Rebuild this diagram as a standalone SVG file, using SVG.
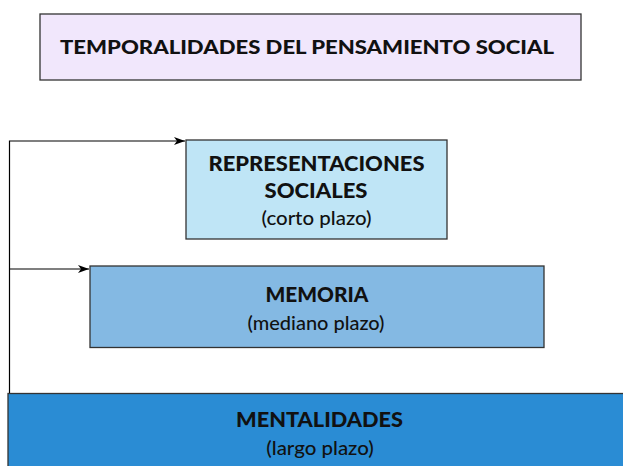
<svg xmlns="http://www.w3.org/2000/svg" width="623" height="466" viewBox="0 0 623 466">
<defs>
<marker id="arr" markerWidth="12" markerHeight="8" refX="11" refY="4" orient="auto" markerUnits="userSpaceOnUse">
<path d="M0,0 L11,4 L0,8 L3,4 Z" fill="#000"/>
</marker>
<style>
.box{stroke:#333;stroke-width:1.3}
.b{font-family:Lato,"Liberation Sans",sans-serif;font-weight:900;fill:#111;text-anchor:middle}
.r{font-family:Lato,"Liberation Sans",sans-serif;font-weight:500;fill:#111;text-anchor:middle}
.c{fill:none;stroke:#000;stroke-width:1.2}
</style>
</defs>
<rect width="623" height="466" fill="#fff"/>
<g id="title">
<rect class="box" x="40" y="14" width="541" height="66" fill="#f1e7fc"/>
<text class="b" x="307" y="54" font-size="18.5" textLength="494" lengthAdjust="spacingAndGlyphs">TEMPORALIDADES DEL PENSAMIENTO SOCIAL</text>
</g>
<g id="representaciones">
<rect class="box" x="186" y="140" width="261" height="99" fill="#bfe5f6"/>
<text class="b" x="316.5" y="171" font-size="20" textLength="216" lengthAdjust="spacingAndGlyphs">REPRESENTACIONES</text>
<text class="b" x="316" y="197.5" font-size="20" textLength="103" lengthAdjust="spacingAndGlyphs">SOCIALES</text>
<text class="r" x="316.5" y="225" font-size="18.5" textLength="110" lengthAdjust="spacingAndGlyphs">(corto plazo)</text>
</g>
<g id="memoria">
<rect class="box" x="90" y="266" width="454" height="81.5" fill="#84b9e3"/>
<text class="b" x="317" y="302" font-size="20" textLength="103" lengthAdjust="spacingAndGlyphs">MEMORIA</text>
<text class="r" x="316" y="330" font-size="18.5" textLength="137" lengthAdjust="spacingAndGlyphs">(mediano plazo)</text>
</g>
<g id="mentalidades">
<rect class="box" x="8" y="393.5" width="620" height="80" fill="#2a8cd4"/>
<text class="b" x="319.5" y="427" font-size="20" textLength="167" lengthAdjust="spacingAndGlyphs">MENTALIDADES</text>
<text class="r" x="320" y="455" font-size="18.5" textLength="107.5" lengthAdjust="spacingAndGlyphs">(largo plazo)</text>
</g>
<g id="connectors">
<path class="c" d="M9.5,393 L9.5,141 L185,141" marker-end="url(#arr)"/>
<path class="c" d="M9.5,269 L89,269" marker-end="url(#arr)"/>
</g>
</svg>
